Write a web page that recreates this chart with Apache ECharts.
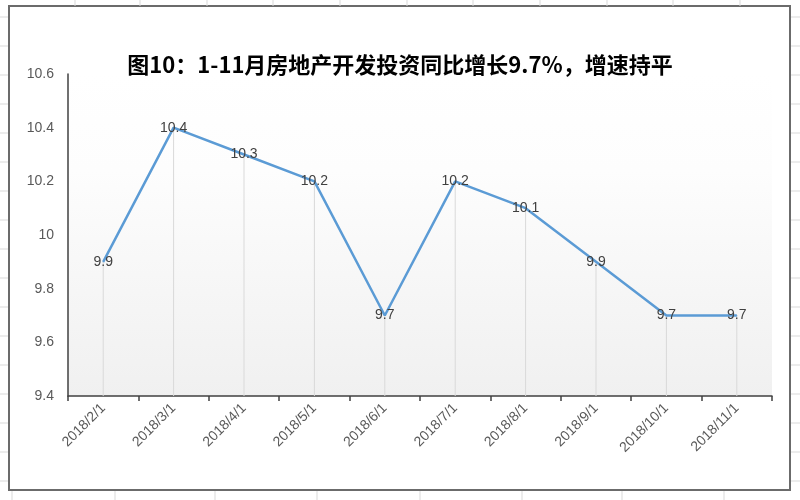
<!DOCTYPE html>
<html><head><meta charset="utf-8">
<script src="https://cdn.jsdelivr.net/npm/echarts@6/dist/echarts.min.js"></script>
<style>html,body{margin:0;padding:0;background:#fff;}#c{width:800px;height:500px;}</style>
</head><body><div id="c"></div>
<script>
var titleText = '图10：1-11月房地产开发投资同比增长9.7%，增速持平';
var categories = ['2018/2/1','2018/3/1','2018/4/1','2018/5/1','2018/6/1','2018/7/1','2018/8/1','2018/9/1','2018/10/1','2018/11/1'];
var values = [9.9, 10.4, 10.3, 10.2, 9.7, 10.2, 10.1, 9.9, 9.7, 9.7];
var yMin = 9.4, yMax = 10.6, yStep = 0.2;

var chart = echarts.init(document.getElementById('c'));
var g = [];
// spreadsheet cell lines outside the chart frame
var hY = [17, 46, 75, 104, 133, 162, 191, 220, 249, 278, 307, 336, 365, 394, 423, 452, 481];
hY.forEach(function(y){
  g.push({type:'line', shape:{x1:0,y1:y,x2:8,y2:y}, style:{stroke:'#d9d9d9',lineWidth:1}, silent:true});
  g.push({type:'line', shape:{x1:791,y1:y,x2:800,y2:y}, style:{stroke:'#d9d9d9',lineWidth:1}, silent:true});
});
var vX = [75, 140, 207, 273, 340, 407, 473, 540, 607, 673, 740];
vX.forEach(function(x){
  g.push({type:'line', shape:{x1:x,y1:0,x2:x,y2:6}, style:{stroke:'#d9d9d9',lineWidth:1}, silent:true});
});
var vX2 = [12, 115, 215, 317, 420, 522, 622, 724];
vX2.forEach(function(x){
  g.push({type:'line', shape:{x1:x,y1:491,x2:x,y2:500}, style:{stroke:'#d9d9d9',lineWidth:1}, silent:true});
});
// chart frame
g.push({type:'rect', shape:{x:9,y:6,width:781,height:484}, style:{fill:null, stroke:'#6b6b6b', lineWidth:2}, silent:true, z:-1});

chart.setOption({
  animation: false,
  backgroundColor: '#fff',
  graphic: g,
  title: {
    text: titleText, left: 'center', top: 49,
    textStyle: {fontFamily: 'Noto Sans CJK SC', fontWeight: 'bold', fontSize: 22, color: '#000'}
  },
  grid: {
    left: 68, right: 28, top: 74, bottom: 104,
    show: true, borderWidth: 0,
    backgroundColor: new echarts.graphic.LinearGradient(0,0,0,1,[
      {offset:0, color:'#ffffff'},{offset:0.3, color:'#fdfdfd'},{offset:1, color:'#f0f0f0'}])
  },
  xAxis: {
    type: 'category', data: categories, boundaryGap: true,
    axisLine: {lineStyle: {color: '#404040', width: 1.5}},
    axisTick: {show: true, alignWithLabel: false, length: 5, lineStyle: {color: '#404040', width: 1.5}},
    axisLabel: {rotate: 45, interval: 0, color: '#595959', fontSize: 14, fontFamily: 'Liberation Sans', margin: 10},
    splitLine: {show: false}
  },
  yAxis: {
    type: 'value', min: yMin, max: yMax, interval: yStep,
    axisLine: {show: true, lineStyle: {color: '#404040', width: 1.5}},
    axisTick: {show: false},
    splitLine: {show: false},
    axisLabel: {color: '#595959', fontSize: 14, fontFamily: 'Liberation Sans', margin: 14,
      formatter: function(v){ return String(Math.round(v*10)/10); }}
  },
  series: [
    {
      type: 'bar', data: values, barWidth: 1, silent: true, z: 1,
      itemStyle: {color: '#d9d9d9'}
    },
    {
      type: 'line', data: values, z: 3,
      symbol: 'circle', symbolSize: 1, showSymbol: true,
      itemStyle: {color: '#5b9bd5'},
      lineStyle: {color: '#5b9bd5', width: 2.5},
      label: {show: true, position: 'inside', color: '#404040', fontSize: 14, fontFamily: 'Liberation Sans'}
    }
  ]
});
</script></body></html>
